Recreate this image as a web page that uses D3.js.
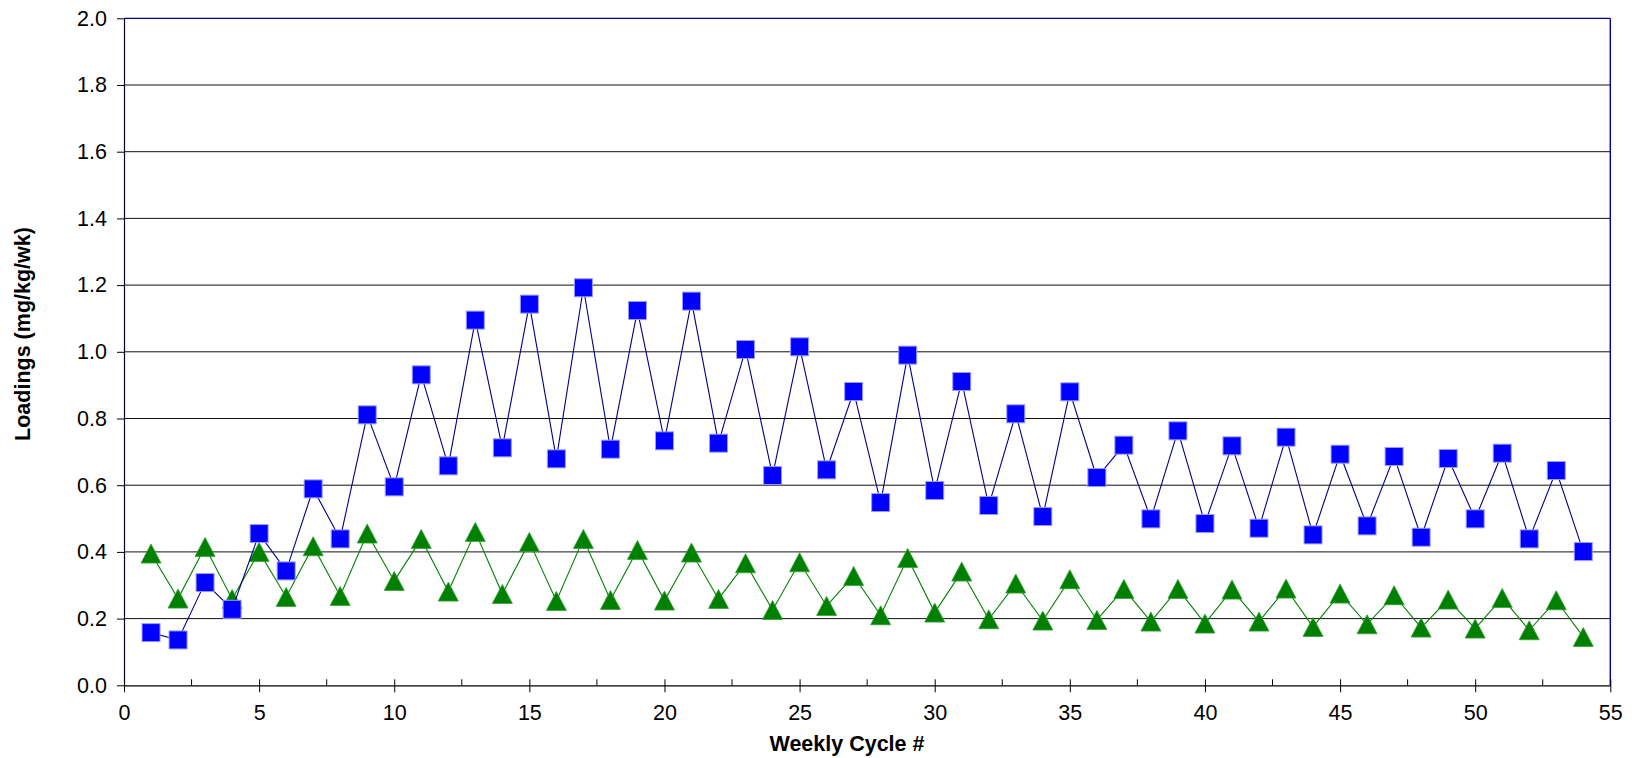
<!DOCTYPE html>
<html>
<head>
<meta charset="utf-8">
<script src="https://cdn.jsdelivr.net/npm/d3@7"></script>
<style>
  html, body { margin: 0; padding: 0; background: #fff; }
  svg { display: block; font-family: "Liberation Sans", Arial, sans-serif; }
</style>
</head>
<body>
<svg id="chart" width="1637" height="758"></svg>
<script>
// ---- data ----
const cycles = d3.range(1, 55);
const blueValues = [
  0.158, 0.136, 0.308, 0.228, 0.455, 0.343, 0.589, 0.439, 0.811, 0.595,
  0.931, 0.658, 1.095, 0.712, 1.143, 0.679, 1.192, 0.708, 1.124, 0.733,
  1.152, 0.726, 1.007, 0.629, 1.015, 0.646, 0.881, 0.548, 0.990, 0.584,
  0.911, 0.539, 0.814, 0.506, 0.880, 0.623, 0.720, 0.499, 0.763, 0.485,
  0.718, 0.471, 0.744, 0.451, 0.693, 0.478, 0.686, 0.444, 0.680, 0.499,
  0.696, 0.439, 0.644, 0.401
];
const greenValues = [
  0.395, 0.260, 0.415, 0.259, 0.400, 0.265, 0.417, 0.268, 0.455, 0.313,
  0.439, 0.281, 0.460, 0.274, 0.430, 0.253, 0.439, 0.256, 0.406, 0.254,
  0.398, 0.259, 0.366, 0.226, 0.369, 0.238, 0.328, 0.210, 0.382, 0.218,
  0.341, 0.198, 0.305, 0.194, 0.318, 0.196, 0.289, 0.191, 0.289, 0.185,
  0.287, 0.191, 0.290, 0.175, 0.275, 0.183, 0.270, 0.173, 0.257, 0.170,
  0.262, 0.165, 0.255, 0.145
];
const xTicks = [0, 5, 10, 15, 20, 25, 30, 35, 40, 45, 50, 55];
const xMinorTicks = [2.5, 7.5, 12.5, 17.5, 22.5, 27.5, 32.5, 37.5, 42.5, 47.5, 52.5];
const yTicks = [0, 0.2, 0.4, 0.6, 0.8, 1.0, 1.2, 1.4, 1.6, 1.8, 2.0];
const xTitle = "Weekly Cycle #";
const yTitle = "Loadings (mg/kg/wk)";

// ---- layout ----
const svg = d3.select("#chart");
const L = 124, R = 1610.3, T = 18.3, B = 685.3;
const x = d3.scaleLinear().domain([0, 55]).range([L, R]);
const y = d3.scaleLinear().domain([0, 2]).range([B, T]);
const fontSize = 21.5;

// gridlines
svg.append("g").selectAll("line").data(yTicks.filter(d => d > 0 && d < 2)).join("line")
  .attr("x1", L).attr("x2", R)
  .attr("y1", d => y(d)).attr("y2", d => y(d))
  .attr("stroke", "#111").attr("stroke-width", 1);

// plot border: top and right
svg.append("line").attr("x1", L).attr("x2", R).attr("y1", T).attr("y2", T)
  .attr("stroke", "#000080").attr("stroke-width", 1.2);
svg.append("line").attr("x1", R).attr("x2", R).attr("y1", T).attr("y2", B)
  .attr("stroke", "#0000b0").attr("stroke-width", 1.4);

// y axis
const yAxis = d3.axisLeft(y).tickValues(yTicks).tickFormat(d3.format(".1f"))
  .tickSize(7).tickSizeOuter(0).tickPadding(10);
const gy = svg.append("g").attr("transform", `translate(${L},0)`).call(yAxis);
gy.select(".domain").attr("stroke", "#000030").attr("stroke-width", 1.2);
gy.selectAll(".tick line").attr("stroke", "#000").attr("stroke-width", 1);
gy.selectAll("text").attr("font-size", fontSize).attr("fill", "#000")
  .attr("font-family", "'Liberation Sans', Arial, sans-serif");

// x axis
const xAxis = d3.axisBottom(x).tickValues(xTicks).tickFormat(d3.format("d"))
  .tickSize(7).tickSizeOuter(0).tickPadding(12);
const gx = svg.append("g").attr("transform", `translate(0,${B})`).call(xAxis);
gx.select(".domain").attr("stroke", "#000").attr("stroke-width", 1.2);
gx.selectAll(".tick line").attr("y1", -6).attr("stroke", "#000").attr("stroke-width", 1);
gx.selectAll("text").attr("font-size", fontSize).attr("fill", "#000")
  .attr("font-family", "'Liberation Sans', Arial, sans-serif");
// minor ticks inside
svg.append("g").selectAll("line").data(xMinorTicks).join("line")
  .attr("x1", d => x(d)).attr("x2", d => x(d))
  .attr("y1", B - 6).attr("y2", B)
  .attr("stroke", "#000").attr("stroke-width", 1);

// titles
svg.append("text").attr("x", 847).attr("y", 751)
  .attr("text-anchor", "middle").attr("font-weight", "bold")
  .attr("font-size", fontSize).text(xTitle);
svg.append("text").attr("transform", "translate(30,334) rotate(-90)")
  .attr("text-anchor", "middle").attr("font-weight", "bold")
  .attr("font-size", fontSize).text(yTitle);

// series
const line = d3.line().x((d, i) => x(cycles[i])).y(d => y(d));

// green series
svg.append("path").datum(greenValues).attr("d", line)
  .attr("fill", "none").attr("stroke", "#008000").attr("stroke-width", 1.1);
const triW = 20, triH = 19;
svg.append("g").selectAll("path").data(greenValues).join("path")
  .attr("transform", (d, i) => `translate(${x(cycles[i])},${y(d)})`)
  .attr("d", `M0,${-triH / 2}L${triW / 2},${triH / 2}L${-triW / 2},${triH / 2}Z`)
  .attr("fill", "#008000").attr("stroke", "#33a033").attr("stroke-width", 0.8);

// blue series
svg.append("path").datum(blueValues).attr("d", line)
  .attr("fill", "none").attr("stroke", "#000080").attr("stroke-width", 1.1);
const sq = 18;
svg.append("g").selectAll("rect").data(blueValues).join("rect")
  .attr("x", (d, i) => x(cycles[i]) - sq / 2)
  .attr("y", d => y(d) - sq / 2)
  .attr("width", sq).attr("height", sq)
  .attr("fill", "#0000ff").attr("stroke", "#9a9aff").attr("stroke-width", 1);
</script>
</body>
</html>
